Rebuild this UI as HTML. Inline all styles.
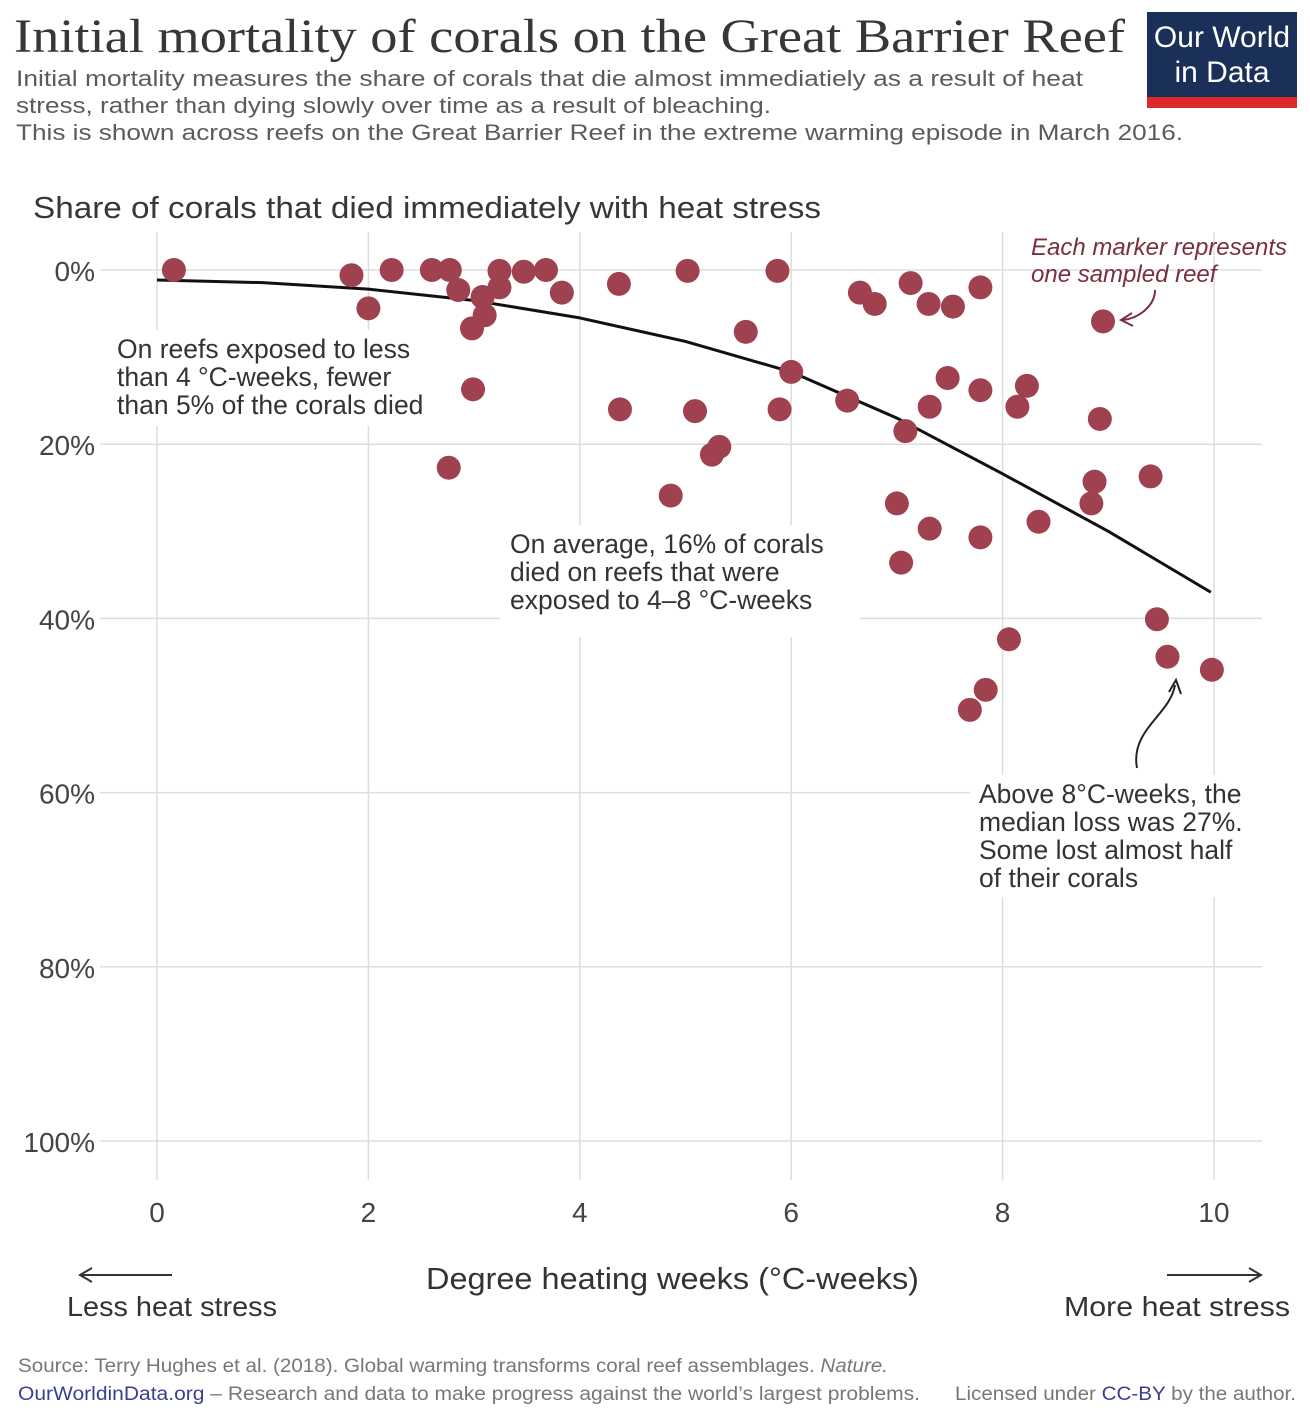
<!DOCTYPE html>
<html><head><meta charset="utf-8">
<style>
body{margin:0;background:#fff;}
svg{display:block;font-family:"Liberation Sans",sans-serif;}
</style></head>
<body>
<svg id="chart" width="1310" height="1416" viewBox="0 0 1310 1416" xmlns="http://www.w3.org/2000/svg">
<text x="14" y="52" font-family="Liberation Serif,serif" font-size="48" fill="#373737" textLength="1111" lengthAdjust="spacingAndGlyphs">Initial mortality of corals on the Great Barrier Reef</text>
<g font-size="22" fill="#5b5b5b">
<text x="16" y="86" textLength="1067" lengthAdjust="spacingAndGlyphs">Initial mortality measures the share of corals that die almost immediatiely as a result of heat</text>
<text x="16" y="113" textLength="755" lengthAdjust="spacingAndGlyphs">stress, rather than dying slowly over time as a result of bleaching.</text>
<text x="16" y="140" textLength="1167" lengthAdjust="spacingAndGlyphs">This is shown across reefs on the Great Barrier Reef in the extreme warming episode in March 2016.</text>
</g>
<g>
<rect x="1147" y="12" width="150" height="96" fill="#1a3059"/>
<rect x="1147" y="97" width="150" height="11" fill="#dc2a2a"/>
<text x="1222" y="47" text-anchor="middle" font-size="30" fill="#fff">Our World</text>
<text x="1222" y="82" text-anchor="middle" font-size="30" fill="#fff">in Data</text>
</g>
<text x="33" y="218" font-size="31" fill="#373737" textLength="788" lengthAdjust="spacingAndGlyphs">Share of corals that died immediately with heat stress</text>
<g id="grid"></g>
<g id="curve"></g>
<g id="labels"></g>
<g>
<rect x="108" y="330" width="330" height="96" fill="#fff"/>
<text font-size="26.5" fill="#333"><tspan x="117" y="358">On reefs exposed to less</tspan><tspan x="117" y="386">than 4 °C-weeks,  fewer</tspan><tspan x="117" y="414">than 5% of the corals died</tspan></text>
</g>
<g>
<rect x="500" y="525" width="360" height="112" fill="#fff"/>
<text font-size="26.5" fill="#333"><tspan x="510" y="553">On average, 16% of corals</tspan><tspan x="510" y="581">died on reefs that were</tspan><tspan x="510" y="609">exposed to 4–8 °C-weeks</tspan></text>
</g>
<g>
<rect x="970" y="775" width="300" height="122" fill="#fff"/>
<text font-size="26.5" fill="#333"><tspan x="979" y="803">Above 8°C-weeks, the</tspan><tspan x="979" y="831">median loss was 27%.</tspan><tspan x="979" y="859">Some lost almost half</tspan><tspan x="979" y="887">of their corals</tspan></text>
<path d="M1137,768 C1130,730 1170,715 1175,685" fill="none" stroke="#222" stroke-width="2"/>
<path d="M1169,692 L1176,680 L1181,694" fill="none" stroke="#222" stroke-width="2"/>
</g>
<g id="points"></g>
<g>
<text font-size="24" font-style="italic" fill="#7a2f3f"><tspan x="1031" y="255" textLength="256" lengthAdjust="spacingAndGlyphs">Each marker represents</tspan><tspan x="1031" y="282">one sampled reef</tspan></text>
<path d="M1155,290 C1155,305 1140,318 1123,320" fill="none" stroke="#7a2f3f" stroke-width="2"/>
<path d="M1132,313 L1121,320 L1133,326" fill="none" stroke="#7a2f3f" stroke-width="2"/>
</g>
<text x="426" y="1289" font-size="31" fill="#333" textLength="493" lengthAdjust="spacingAndGlyphs">Degree heating weeks (°C-weeks)</text>
<g>
<line x1="80" y1="1275" x2="172" y2="1275" stroke="#333" stroke-width="2"/>
<path d="M92,1268 L80,1275 L92,1282" fill="none" stroke="#333" stroke-width="2"/>
<text x="67" y="1316" font-size="28" fill="#333" textLength="210" lengthAdjust="spacingAndGlyphs">Less heat stress</text>
</g>
<g>
<line x1="1167" y1="1275" x2="1261" y2="1275" stroke="#333" stroke-width="2"/>
<path d="M1249,1268 L1261,1275 L1249,1282" fill="none" stroke="#333" stroke-width="2"/>
<text x="1064" y="1316" font-size="28" fill="#333" textLength="226" lengthAdjust="spacingAndGlyphs">More heat stress</text>
</g>
<text x="18" y="1372" font-size="19" fill="#777" textLength="870" lengthAdjust="spacingAndGlyphs">Source: Terry Hughes et al. (2018). Global warming transforms coral reef assemblages. <tspan font-style="italic">Nature.</tspan></text>
<text x="18" y="1400" font-size="19" fill="#777" textLength="902" lengthAdjust="spacingAndGlyphs"><tspan fill="#3b3f94">OurWorldinData.org</tspan> – Research and data to make progress against the world’s largest problems.</text>
<text x="955" y="1400" font-size="19" fill="#777" textLength="341" lengthAdjust="spacingAndGlyphs">Licensed under <tspan fill="#3b3f94">CC-BY</tspan> by the author.</text>
</svg>
<script>
const xTicks=[0,2,4,6,8,10];
const yTicks=[0,20,40,60,80,100];
const pointX=[0.16,1.84,2.0,2.22,2.6,2.77,2.85,2.76,2.98,2.99,3.08,3.1,3.24,3.24,3.47,3.68,3.83,4.37,4.38,4.86,5.02,5.09,5.25,5.32,5.57,5.87,5.89,6.0,6.53,6.65,6.79,7.0,7.04,7.08,7.13,7.3,7.31,7.31,7.48,7.53,7.69,7.79,7.79,7.79,7.84,8.06,8.14,8.23,8.34,8.84,8.87,8.92,8.95,9.4,9.46,9.56,9.98];
const pointY=[0,0.6,4.4,0,0,0,2.3,22.7,6.7,13.7,3.1,5.2,0.1,2.0,0.2,0,2.6,1.6,16.0,25.9,0.1,16.2,21.2,20.3,7.1,0.1,16.0,11.7,15.0,2.6,3.9,26.8,33.6,18.5,1.5,3.9,15.7,29.7,12.4,4.2,50.5,2.0,13.8,30.7,48.2,42.4,15.7,13.3,28.9,26.8,24.3,17.1,5.9,23.7,40.1,44.4,45.9];
const curveX=[0,1,2,3,4,5,6,7,8,9,9.97];
const curveY=[1.15,1.45,2.2,3.5,5.5,8.2,11.7,17,23.4,30,37];
const NS="http://www.w3.org/2000/svg";
const sx=v=>157+v*105.7;
const sy=v=>270+v*8.71;
function mk(tag,attrs,parent){const e=document.createElementNS(NS,tag);for(const k in attrs)e.setAttribute(k,attrs[k]);parent.appendChild(e);return e;}
const grid=document.getElementById('grid'),labels=document.getElementById('labels');
yTicks.forEach(t=>{
  const l=mk('line',{x1:100,x2:1262,y1:sy(t),y2:sy(t),stroke:'#ddd','stroke-width':1.5},grid);
  
  
  const tx=mk('text',{x:95,y:sy(t)+11,'text-anchor':'end','font-size':28,fill:'#444'},labels);
  tx.textContent=t+'%';
  
  
});
xTicks.forEach(t=>{
  const l=mk('line',{x1:sx(t),x2:sx(t),y1:232,y2:1180,stroke:'#ddd','stroke-width':1.5},grid);
  
  
  const tx=mk('text',{x:sx(t),y:1222,'text-anchor':'middle','font-size':28,fill:'#444'},labels);
  tx.textContent=t;
  
  
});
let d='M'+sx(curveX[0])+','+sy(curveY[0]);
for(let i=1;i<curveX.length;i++)d+=' L'+sx(curveX[i])+','+sy(curveY[i]);
const c=mk('path',{d:d,fill:'none',stroke:'#111','stroke-width':3,'stroke-linejoin':'round'},document.getElementById('curve'));


const pts=document.getElementById('points');
pointX.forEach((x,i)=>{
  const p=mk('circle',{cx:sx(x),cy:sy(pointY[i]),r:12,fill:'#a0414f'},pts);
  
  
});
</script>
</body></html>
